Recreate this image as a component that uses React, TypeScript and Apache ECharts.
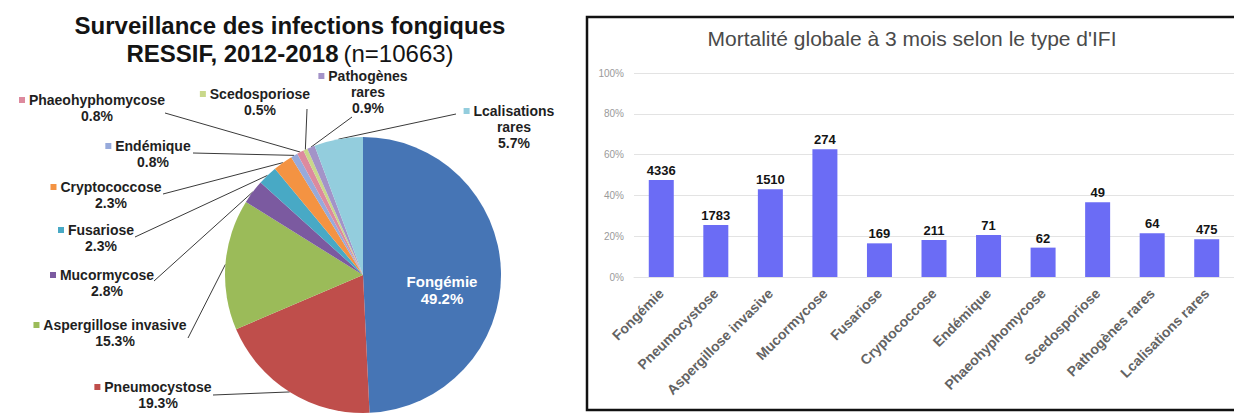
import React, { useEffect, useRef } from 'react';
import * as echarts from 'echarts';

// ---- data ----
const categories = [
  'Fongémie',
  'Pneumocystose',
  'Aspergillose invasive',
  'Mucormycose',
  'Fusariose',
  'Cryptococcose',
  'Endémique',
  'Phaeohyphomycose',
  'Scedosporiose',
  'Pathogènes rares',
  'Lcalisations rares',
];
// share of cases (%) – pie
const pieShares = [49.2, 19.3, 15.3, 2.8, 2.3, 2.3, 0.8, 0.8, 0.5, 0.9, 5.7];
// 3-month overall mortality (%) – bars
const mortality = [47.5, 25.5, 43, 62.6, 16.5, 18.1, 20.6, 14.4, 36.6, 21.4, 18.5];
// number of patients printed above each bar
const patientCounts = [4336, 1783, 1510, 274, 169, 211, 71, 62, 49, 64, 475];

const pieTitleLine1 = 'Surveillance des infections fongiques';
const pieTitleLine2Bold = 'RESSIF, 2012-2018';
const pieTitleLine2Normal = '(n=10663)';
const barTitle = "Mortalité globale à 3 mois selon le type d'IFI";

// ---- styles / layout ----
const pieColors = [
  '#4675b5', '#bf4e4b', '#9bbb59', '#7b5aa0', '#48a9c5', '#f49342',
  '#97aadb', '#dd8a9e', '#c9d88a', '#a393c8', '#93cddd',
];
const FONT = '"Liberation Sans", Arial, sans-serif';
const MARK = 5; // half of marker+space width, used to recentre names

// where each pie label sits (centre x of the name, top y) and where its leader line ends
const pieLabelPlace: any[] = [
  { x: 442, y: 290, inside: true },
  { x: 158 - MARK, y: 379, end: [213, 395] },
  { x: 115 - MARK, y: 317, end: [188, 338] },
  { x: 107 - MARK, y: 267, end: [154, 281] },
  { x: 101 - MARK, y: 222, end: [135, 237] },
  { x: 111 - MARK, y: 179, end: [163, 194] },
  { x: 153 - MARK, y: 138, end: [193, 153] },
  { x: 97 - MARK, y: 92, end: [165, 113] },
  { x: 260 - MARK, y: 86, end: [307, 109] },
  { x: 368 - MARK, y: 68, end: [352, 117] },
  { x: 514 - MARK, y: 103, end: [456, 114] },
];

function buildOption(): any {
  const rich: any = {
    n: { fontFamily: FONT, fontSize: 14, fontWeight: 'bold', color: '#1f1f1f', lineHeight: 16 },
    p: {
      fontFamily: FONT, fontSize: 14, fontWeight: 'bold', color: '#1f1f1f', lineHeight: 16,
      padding: [0, 0, 0, MARK * 2],
    },
    f: { fontFamily: FONT, fontSize: 15, fontWeight: 'bold', color: '#ffffff', lineHeight: 17 },
  };
  pieColors.forEach((c, i) => {
    rich['m' + i] = { width: 6, height: 6, backgroundColor: c };
  });

  const pieData = categories.map((name, i) => ({
    name,
    value: pieShares[i],
    itemStyle: { color: pieColors[i] },
    label: i === 0 ? { position: 'inside' } : undefined,
    labelLine: i === 0 ? { show: false } : undefined,
  }));

  return {
    animation: false,
    backgroundColor: '#ffffff',
    textStyle: { fontFamily: FONT },
    title: [
      {
        text: `{b|${pieTitleLine1}}\n{b|${pieTitleLine2Bold}} {r|${pieTitleLine2Normal}}`,
        left: 290,
        top: 11,
        textAlign: 'center',
        padding: 0,
        textStyle: {
          rich: {
            b: { fontFamily: FONT, fontSize: 24, fontWeight: 'bold', color: '#141414', lineHeight: 28 },
            r: { fontFamily: FONT, fontSize: 24, fontWeight: 'normal', color: '#141414', lineHeight: 28 },
          },
        },
      },
      {
        text: barTitle,
        left: 912,
        top: 28,
        textAlign: 'center',
        padding: 0,
        textStyle: { fontFamily: FONT, fontSize: 21, fontWeight: 'normal', color: '#4a4a4a' },
      },
    ],
    graphic: [
      {
        type: 'rect',
        silent: true,
        z: 100,
        shape: { x: 587, y: 17, width: 700, height: 393 },
        style: { fill: 'none', stroke: '#111111', lineWidth: 2.5 },
      },
    ],
    grid: { left: 634, right: 0, top: 73, bottom: 137 },
    xAxis: {
      type: 'category',
      data: categories,
      axisTick: { show: false },
      axisLine: { lineStyle: { color: '#e3e3e3' } },
      axisLabel: {
        rotate: 45,
        interval: 0,
        margin: 14,
        fontFamily: FONT,
        fontSize: 14,
        fontWeight: 'bold',
        color: '#636363',
      },
    },
    yAxis: {
      type: 'value',
      min: 0,
      max: 100,
      interval: 20,
      axisLine: { show: false },
      axisTick: { show: false },
      axisLabel: { formatter: '{value}%', fontFamily: FONT, fontSize: 10, color: '#9a9a9a', margin: 10 },
      splitLine: { lineStyle: { color: '#e3e3e3' } },
    },
    series: [
      {
        type: 'pie',
        center: [363, 275],
        radius: 138,
        startAngle: 90,
        clockwise: true,
        avoidLabelOverlap: false,
        data: pieData,
        label: {
          show: true,
          position: 'outside',
          align: 'center',
          fontFamily: FONT,
          fontSize: 14,
          fontWeight: 'bold',
          color: '#1f1f1f',
          formatter: (p: any) => {
            const i = p.dataIndex;
            const pct = `${Number(p.value).toFixed(1)}%`;
            if (i === 0) return `{f|${p.name}}\n{f|${pct}}`;
            const parts = p.name.endsWith(' rares')
              ? [p.name.slice(0, -6), 'rares']
              : [p.name];
            let s = `{m${i}|} {n|${parts[0]}}`;
            if (parts.length > 1) s += `\n{p|${parts[1]}}`;
            s += `\n{p|${pct}}`;
            return s;
          },
          rich,
        },
        labelLine: {
          show: true,
          length: 10,
          length2: 10,
          lineStyle: { color: '#3a3a3a', width: 1 },
        },
        labelLayout: (params: any) => {
          const pl = pieLabelPlace[params.dataIndex];
          if (!pl) return {};
          if (pl.inside) {
            return { x: pl.x, y: pl.y, align: 'center', verticalAlign: 'middle' };
          }
          const res: any = { x: pl.x, y: pl.y, align: 'center', verticalAlign: 'top' };
          const pts = params.labelLinePoints;
          if (pts && pts[0]) {
            res.labelLinePoints = [pts[0], pl.end, pl.end];
          }
          return res;
        },
      },
      {
        type: 'bar',
        data: mortality,
        barWidth: 25,
        itemStyle: { color: '#6b6cf5' },
        label: {
          show: true,
          position: 'top',
          distance: 3,
          fontFamily: FONT,
          fontSize: 13,
          fontWeight: 'bold',
          color: '#141414',
          formatter: (p: any) => String(patientCounts[p.dataIndex]),
        },
      },
    ],
  };
}

export default function App() {
  const ref = useRef<HTMLDivElement>(null);
  useEffect(() => {
    if (!ref.current) return;
    const chart = echarts.init(ref.current, undefined, { renderer: 'svg' });
    chart.setOption(buildOption());
    return () => chart.dispose();
  }, []);
  return (
    <div
      ref={ref}
      style={{ position: 'absolute', left: 0, top: 0, width: 1234, height: 414, background: '#fff' }}
    />
  );
}
